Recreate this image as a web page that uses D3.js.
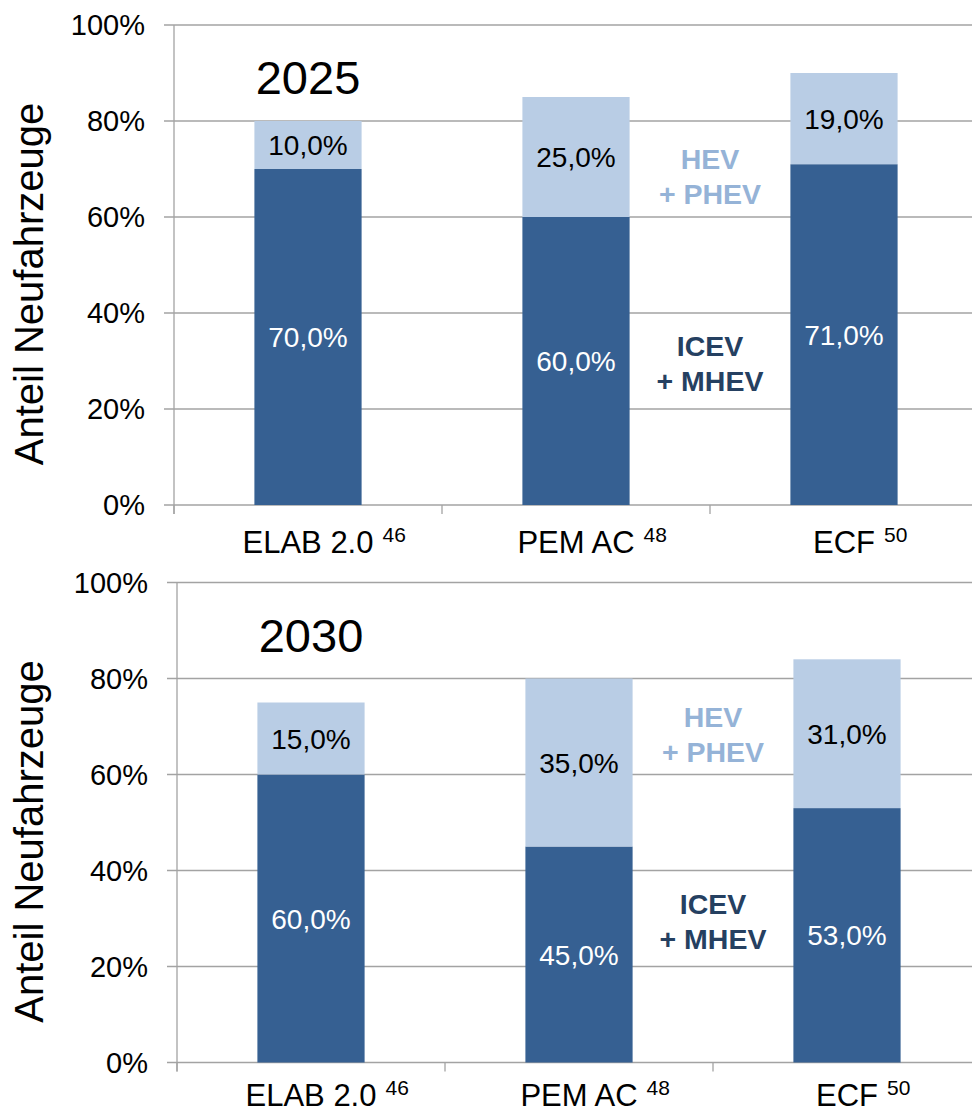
<!DOCTYPE html>
<html>
<head>
<meta charset="utf-8">
<script src="https://cdn.jsdelivr.net/npm/d3@7/dist/d3.min.js"></script>
<style>
  html, body { margin: 0; padding: 0; background: #ffffff; }
  svg { display: block; font-family: "Liberation Sans", Arial, sans-serif; }
</style>
</head>
<body>
<svg id="chart" width="972" height="1112"></svg>
<script>
// Studies compared and their reference numbers
const categories = ["ELAB 2.0", "PEM AC", "ECF"];
const sources = ["46", "48", "50"];
const years = ["2025", "2030"];

// Share of new vehicles (%) per study
const icev2025 = [70, 60, 71];   // ICEV + MHEV
const hev2025 = [10, 25, 19];    // HEV + PHEV
const icev2030 = [60, 45, 53];
const hev2030 = [15, 35, 31];

const yTicks = [0, 20, 40, 60, 80, 100];
const seriesNames = [["ICEV", "+ MHEV"], ["HEV", "+ PHEV"]];

const colDark = "#366092";
const colLight = "#b9cde5";
const colGrid = "#a3a3a3";

const svg = d3.select("#chart");

const panels = [
  { year: years[0], icev: icev2025, hev: hev2025, left: 174, top: 25, labelGap: 48 },
  { year: years[1], icev: icev2030, hev: hev2030, left: 177, top: 582.5, labelGap: 43 }
];

const plotW = 804, plotH = 480;
const fmtTick = d => d + "%";
const fmtVal = d => d.toFixed(1).replace(".", ",") + "%";

panels.forEach(p => {
  const g = svg.append("g").attr("transform", `translate(${p.left},${p.top})`);

  const x = d3.scaleBand().domain(categories).range([0, plotW])
    .paddingInner(0.6).paddingOuter(0.3);
  const y = d3.scaleLinear().domain([0, 100]).range([plotH, 0]);

  // horizontal gridlines
  g.selectAll("line.grid").data(yTicks).join("line")
    .attr("class", "grid")
    .attr("x1", -10).attr("x2", plotW)
    .attr("y1", d => y(d)).attr("y2", d => y(d))
    .attr("stroke", colGrid).attr("stroke-width", 1.3);

  // y axis line
  g.append("line")
    .attr("x1", 0).attr("x2", 0).attr("y1", y(100)).attr("y2", plotH + 9)
    .attr("stroke", colGrid).attr("stroke-width", 1.3);

  // category boundary ticks
  const bounds = d3.range(categories.length + 1).map(i => i * x.step());
  g.selectAll("line.xt").data(bounds).join("line")
    .attr("class", "xt")
    .attr("x1", d => d).attr("x2", d => d)
    .attr("y1", plotH).attr("y2", plotH + 9)
    .attr("stroke", colGrid).attr("stroke-width", 1.3);

  // y tick labels
  g.selectAll("text.yt").data(yTicks).join("text")
    .attr("class", "yt")
    .attr("x", -29).attr("y", d => y(d))
    .attr("dy", "0.36em")
    .attr("text-anchor", "end")
    .attr("font-size", 29)
    .attr("fill", "#000")
    .text(fmtTick);

  // stacked bars
  const rows = categories.map((c, i) => ({ cat: c, src: sources[i], icev: p.icev[i], hev: p.hev[i] }));

  g.selectAll("rect.dark").data(rows).join("rect")
    .attr("class", "dark")
    .attr("x", d => x(d.cat)).attr("width", x.bandwidth())
    .attr("y", d => y(d.icev)).attr("height", d => y(0) - y(d.icev))
    .attr("fill", colDark);

  g.selectAll("rect.light").data(rows).join("rect")
    .attr("class", "light")
    .attr("x", d => x(d.cat)).attr("width", x.bandwidth())
    .attr("y", d => y(d.icev + d.hev)).attr("height", d => y(d.icev) - y(d.icev + d.hev))
    .attr("fill", colLight);

  // value labels centred in each segment
  g.selectAll("text.vd").data(rows).join("text")
    .attr("class", "vd")
    .attr("x", d => x(d.cat) + x.bandwidth() / 2)
    .attr("y", d => y(d.icev / 2))
    .attr("dy", "0.36em")
    .attr("text-anchor", "middle")
    .attr("font-size", 28)
    .attr("fill", "#ffffff")
    .text(d => fmtVal(d.icev));

  g.selectAll("text.vl").data(rows).join("text")
    .attr("class", "vl")
    .attr("x", d => x(d.cat) + x.bandwidth() / 2)
    .attr("y", d => y(d.icev + d.hev / 2))
    .attr("dy", "0.36em")
    .attr("text-anchor", "middle")
    .attr("font-size", 28)
    .attr("fill", "#000")
    .text(d => fmtVal(d.hev));

  // category labels with source superscripts
  rows.forEach(d => {
    const cx = x(d.cat) + x.bandwidth() / 2;
    const t = g.append("text")
      .attr("x", cx).attr("y", plotH + p.labelGap)
      .attr("text-anchor", "middle")
      .attr("font-size", 31)
      .attr("fill", "#000")
      .text(d.cat);
    const len = t.node().getComputedTextLength();
    g.append("text")
      .attr("x", cx + len / 2 + 9).attr("y", plotH + p.labelGap - 11)
      .attr("font-size", 21)
      .attr("fill", "#000")
      .text(d.src);
  });

  // year heading
  g.append("text")
    .attr("x", x(categories[0]) + x.bandwidth() / 2)
    .attr("y", y(85.6))
    .attr("text-anchor", "middle")
    .attr("font-size", 47)
    .attr("fill", "#000")
    .text(p.year);

  // series labels between the 2nd and 3rd bars
  const lx = bounds[2];
  [[seriesNames[1], 70, "#95b3d7"], [seriesNames[0], 31, "#254061"]].forEach(([lines, v, col]) => {
    const t = g.append("text")
      .attr("x", lx).attr("y", y(v))
      .attr("text-anchor", "middle")
      .attr("font-size", 28.5)
      .attr("font-weight", "bold")
      .attr("fill", col);
    lines.forEach((s, i) => {
      t.append("tspan").attr("x", lx).attr("dy", i === 0 ? 0 : 35).text(s);
    });
  });

  // y axis title
  g.append("text")
    .attr("transform", `translate(${43 - p.left},${plotH / 2 + 19}) rotate(-90)`)
    .attr("text-anchor", "middle")
    .attr("font-size", 40)
    .attr("fill", "#000")
    .text("Anteil Neufahrzeuge");
});
</script>
</body>
</html>
